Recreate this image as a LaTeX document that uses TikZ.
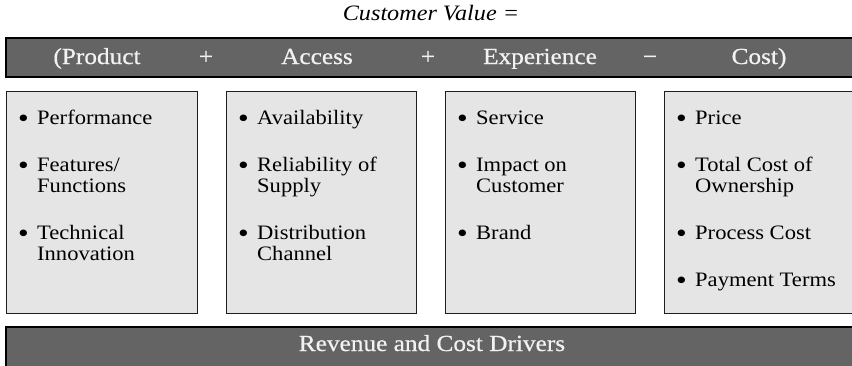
\documentclass[tikz,border=0pt]{standalone}
\usepackage{fontspec}
\setmainfont{Liberation Serif}[FakeStretch=1.1]
\newfontfamily\barfont{Liberation Serif}[FakeStretch=1.1, FakeBold=0.6]
\definecolor{barfill}{HTML}{646464}
\definecolor{boxfill}{HTML}{E5E5E5}
\definecolor{edge}{HTML}{1E1E1E}
\definecolor{bartext}{HTML}{F2F2F2}

\tikzset{
  bar/.style={draw=black, line width=1.6pt, fill=barfill, inner sep=0pt},
  panel/.style={draw=edge, line width=1.2pt, fill=boxfill, inner sep=0pt},
  barword/.style={text=bartext, font=\barfont\fontsize{23}{24}\selectfont, anchor=base, inner sep=0pt},
  itemlist/.style={font=\fontsize{20.5}{21}\selectfont, anchor=base west, inner sep=0pt, text=black},
  heading/.style={font=\fontsize{22}{24}\selectfont\itshape, anchor=base, inner sep=0pt}
}
% bullet list: one row per line, a gap between the entries
\newcommand{\bl}{\raisebox{-3pt}{\scalebox{1.35}{\textbullet}}}
\newcommand{\gapp}{\\[26pt]}

\begin{document}
\begin{tikzpicture}[x=1pt,y=-1pt]
\useasboundingbox (0,0) rectangle (852,365);
\clip (0,0) rectangle (852,365);

% title
\node[heading] (title) at (431,20) {Customer Value =};

% top bar with the value terms
\path[bar] (6,38) rectangle (860,77);
\node[barword] (prod) at (97,64) {(Product};
\node[barword] (op1)  at (206,64) {+};
\node[barword] (acc)  at (317,64) {Access};
\node[barword] (op2)  at (428,64) {+};
\node[barword] (exp)  at (540,64) {Experience};
\node[barword] (op3)  at (650,64) {\char"2212};
\node[barword] (cost) at (759,64) {Cost)};

% the four panels
\node[panel, minimum width=191pt, minimum height=222pt, anchor=north west] (p1) at (6,91) {};
\node[panel, minimum width=190pt, minimum height=222pt, anchor=north west] (p2) at (226,91) {};
\node[panel, minimum width=190pt, minimum height=222pt, anchor=north west] (p3) at (445,91) {};
\node[panel, minimum width=200pt, minimum height=222pt, anchor=north west] (p4) at (664,91) {};

\node[itemlist] (l1) at (18,124) {\begin{tabular}[t]{@{}p{19pt}@{}l@{}}
\bl & Performance\gapp
\bl & Features/\\ & Functions\gapp
\bl & Technical\\ & Innovation
\end{tabular}};

\node[itemlist] (l2) at (238,124) {\begin{tabular}[t]{@{}p{19pt}@{}l@{}}
\bl & Availability\gapp
\bl & Reliability of\\ & Supply\gapp
\bl & Distribution\\ & Channel
\end{tabular}};

\node[itemlist] (l3) at (457,124) {\begin{tabular}[t]{@{}p{19pt}@{}l@{}}
\bl & Service\gapp
\bl & Impact on\\ & Customer\gapp
\bl & Brand
\end{tabular}};

\node[itemlist] (l4) at (676,124) {\begin{tabular}[t]{@{}p{19pt}@{}l@{}}
\bl & Price\gapp
\bl & Total Cost of\\ & Ownership\gapp
\bl & Process Cost\gapp
\bl & Payment Terms
\end{tabular}};

% bottom bar
\path[bar] (6,327) rectangle (860,372);
\node[barword] (drivers) at (432,351) {Revenue and Cost Drivers};
\end{tikzpicture}
\end{document}
